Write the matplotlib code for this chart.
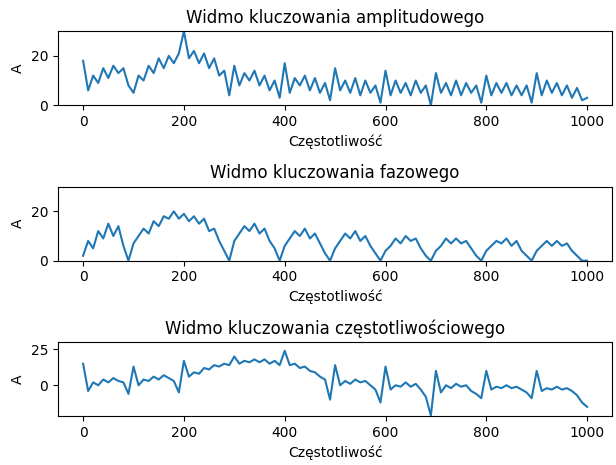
import numpy as np
import matplotlib.pyplot as plt

freq = np.arange(0, 1001, 10)

ask = [18, 6, 12, 9, 15, 11, 16, 13, 15, 8,
       5, 12, 10, 16, 13, 19, 15, 20, 17, 21,
       30, 19, 22, 17, 21, 15, 19, 12, 14, 4,
       16, 8, 13, 10, 14, 8, 12, 6, 10, 3,
       17, 5, 11, 8, 12, 6, 11, 5, 9, 2,
       15, 6, 10, 5, 11, 4, 10, 5, 8, 1,
       14, 4, 10, 5, 9, 4, 10, 5, 8, 0,
       13, 5, 9, 4, 10, 4, 9, 5, 8, 1,
       12, 4, 9, 5, 9, 4, 8, 4, 8, 1,
       13, 4, 10, 5, 9, 4, 8, 3, 7, 2,
       3]

psk = [2, 8, 5, 12, 9, 15, 10, 14, 6, 0,
       7, 10, 13, 11, 16, 14, 18, 17, 20, 17,
       19, 16, 18, 15, 17, 12, 13, 8, 4, 0,
       8, 11, 14, 12, 15, 11, 13, 8, 5, 0,
       6, 9, 12, 10, 13, 9, 11, 7, 3, 0,
       5, 8, 11, 9, 12, 8, 10, 6, 3, 0,
       4, 6, 9, 7, 10, 8, 9, 5, 2, 0,
       4, 6, 9, 7, 9, 7, 8, 5, 2, 0,
       4, 6, 8, 7, 9, 6, 8, 4, 2, 0,
       4, 6, 8, 6, 8, 6, 7, 4, 2, 0,
       0]

fsk = [15, -4, 2, 0, 4, 2, 5, 3, 2, -6,
       13, 0, 4, 3, 6, 4, 7, 5, 3, -5,
       17, 6, 9, 8, 12, 11, 14, 13, 15, 14,
       20, 15, 17, 16, 18, 16, 18, 15, 17, 14,
       24, 14, 15, 12, 13, 10, 9, 6, 4, -10,
       14, 0, 3, 1, 4, 2, 3, 0, -3, -12,
       13, -3, 0, -1, 2, -1, 1, -3, -8, -21,
       10, -5, 0, -2, 1, -1, 0, -4, -6, -9,
       10, -3, -1, -2, 0, -2, -1, -3, -5, -9,
       10, -4, -2, -3, -1, -3, -2, -4, -7, -12,
       -15]

titles = ['Widmo kluczowania amplitudowego',
          'Widmo kluczowania fazowego',
          'Widmo kluczowania częstotliwościowego']

fig, axes = plt.subplots(3, 1, figsize=(6.16, 4.65), dpi=100)
for ax, data, title in zip(axes, [ask, psk, fsk], titles):
    ax.plot(freq, data)
    ax.set_title(title)
    ax.set_xlabel('Częstotliwość')
    ax.set_ylabel('A')
axes[0].set_ylim(0, 30)
axes[1].set_ylim(0, 30)
axes[2].set_ylim(-21.5, 30)
fig.subplots_adjust(left=0.094, right=0.994, top=0.933, bottom=0.105, hspace=1.1)
plt.savefig('out.png')
